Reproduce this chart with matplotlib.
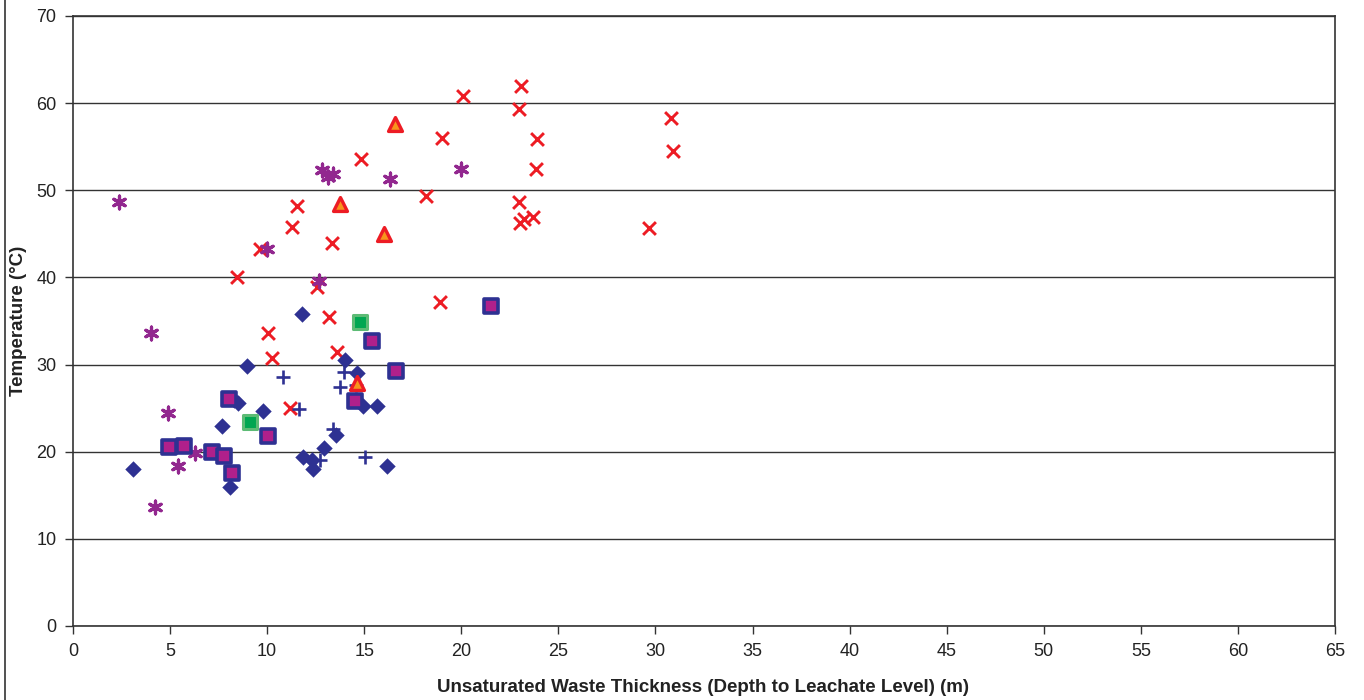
import matplotlib
matplotlib.use("Agg")
import matplotlib.pyplot as plt
from matplotlib.lines import Line2D

plt.rcParams['font.family'] = ['Liberation Sans', 'DejaVu Sans']

# Series data (x = unsaturated waste thickness m, y = temperature °C)
diamond_x = [3.09, 7.66, 8.09, 8.94, 8.3, 8.5, 9.8, 11.78, 14.03, 14.64, 14.95, 15.64,
             13.53, 12.95, 11.86, 12.29, 12.34, 16.15]
diamond_y = [18.0, 22.95, 15.9, 29.8, 25.9, 25.55, 24.7, 35.8, 30.5, 29.0, 25.25, 25.3,
             21.9, 20.4, 19.35, 19.1, 18.0, 18.4]

square_x = [4.96, 5.72, 7.18, 7.78, 8.21, 8.05, 10.03, 15.42, 16.64, 14.5, 21.51]
square_y = [20.58, 20.7, 20.0, 19.55, 17.6, 26.05, 21.85, 32.7, 29.25, 25.85, 36.7]

triangle_x = [16.6, 13.75, 16.03, 14.64]
triangle_y = [57.6, 48.4, 45.0, 27.85]

cross_x = [8.43, 9.63, 11.52, 11.26, 10.06, 12.55, 10.25, 11.18, 13.19, 13.6, 13.34,
           14.83, 18.2, 19.0, 20.1, 18.9, 23.06, 22.97, 23.88, 23.83, 22.97, 23.0,
           23.24, 23.71, 30.82, 30.92, 29.65]
cross_y = [40.1, 43.26, 48.2, 45.8, 33.6, 38.95, 30.75, 25.0, 35.5, 31.4, 43.95,
           53.6, 49.35, 56.0, 60.8, 37.2, 62.0, 59.3, 55.85, 52.4, 48.6, 46.2,
           46.65, 46.97, 58.3, 54.5, 45.7]

star_x = [2.39, 4.02, 4.88, 5.39, 6.28, 4.22, 10.0, 12.65, 12.81, 13.15, 13.4, 16.33, 19.97]
star_y = [48.6, 33.6, 24.5, 18.36, 19.9, 13.6, 43.26, 39.6, 52.3, 51.5, 51.9, 51.25, 52.4]

plus_x = [10.83, 11.65, 13.96, 13.75, 14.58, 13.41, 12.72, 15.04]
plus_y = [28.6, 24.95, 29.1, 27.4, 27.65, 22.6, 19.1, 19.4]

green_x = [9.12, 14.78]
green_y = [23.45, 34.9]

x_ticks = list(range(0, 70, 5))
y_ticks = list(range(0, 80, 10))

NAVY = '#2E3192'
RED = '#ED1C24'
PURPLE = '#92278F'
MAGENTA = '#B0208B'
ORANGE = '#F7941D'

fig = plt.figure(figsize=(13.64, 7.0), dpi=100)
ax = fig.add_axes([73/1364, 74/700, (1335-73)/1364, (626-16)/700])

ax.set_xlim(0, 65)
ax.set_ylim(0, 70)
ax.set_xticks(x_ticks)
ax.set_yticks(y_ticks)
ax.yaxis.grid(True, color='#333333', linewidth=1.0)
ax.set_axisbelow(True)

ax.scatter(cross_x, cross_y, marker='x', s=85, color=RED, linewidths=2.1, zorder=3)
ax.scatter(star_x, star_y, marker=(6, 2, 0), s=85, color=PURPLE, linewidths=2.3, zorder=3)
ax.scatter(plus_x, plus_y, marker='+', s=95, color=NAVY, linewidths=1.9, zorder=3)
ax.scatter(diamond_x, diamond_y, marker='D', s=70, color=NAVY, linewidths=0, zorder=4)
ax.scatter(square_x, square_y, marker='s', s=90, facecolor=MAGENTA, edgecolor=NAVY,
           linewidths=2.6, zorder=5)
ax.scatter(triangle_x, triangle_y, marker='^', s=100, facecolor=ORANGE, edgecolor=RED,
           linewidths=2.4, zorder=5)
ax.scatter(green_x, green_y, marker='s', s=115, facecolor='#00A651', edgecolor='#5DBB75',
           linewidths=2.2, zorder=5)

for sp in ax.spines.values():
    sp.set_color('#333333')
    sp.set_linewidth(1.2)

ax.tick_params(axis='both', direction='out', length=6, width=1, color='#333333',
               labelsize=13, labelcolor='#222222', pad=6)

ax.set_xlabel('Unsaturated Waste Thickness (Depth to Leachate Level) (m)',
              fontsize=13.5, fontweight='bold', color='#222222')
ax.set_ylabel('Temperature (°C)', fontsize=13.5, fontweight='bold', color='#222222')
ax.xaxis.set_label_coords((703.5 - 73) / 1262, -(679 - 626) / 610)
ax.yaxis.set_label_coords(-(73 - 27) / 1262, 0.5)

fig.add_artist(Line2D([4.5/1364, 4.5/1364], [0, 1], transform=fig.transFigure,
                      color='#333333', linewidth=1.2))

fig.savefig('out.png', dpi=100)
